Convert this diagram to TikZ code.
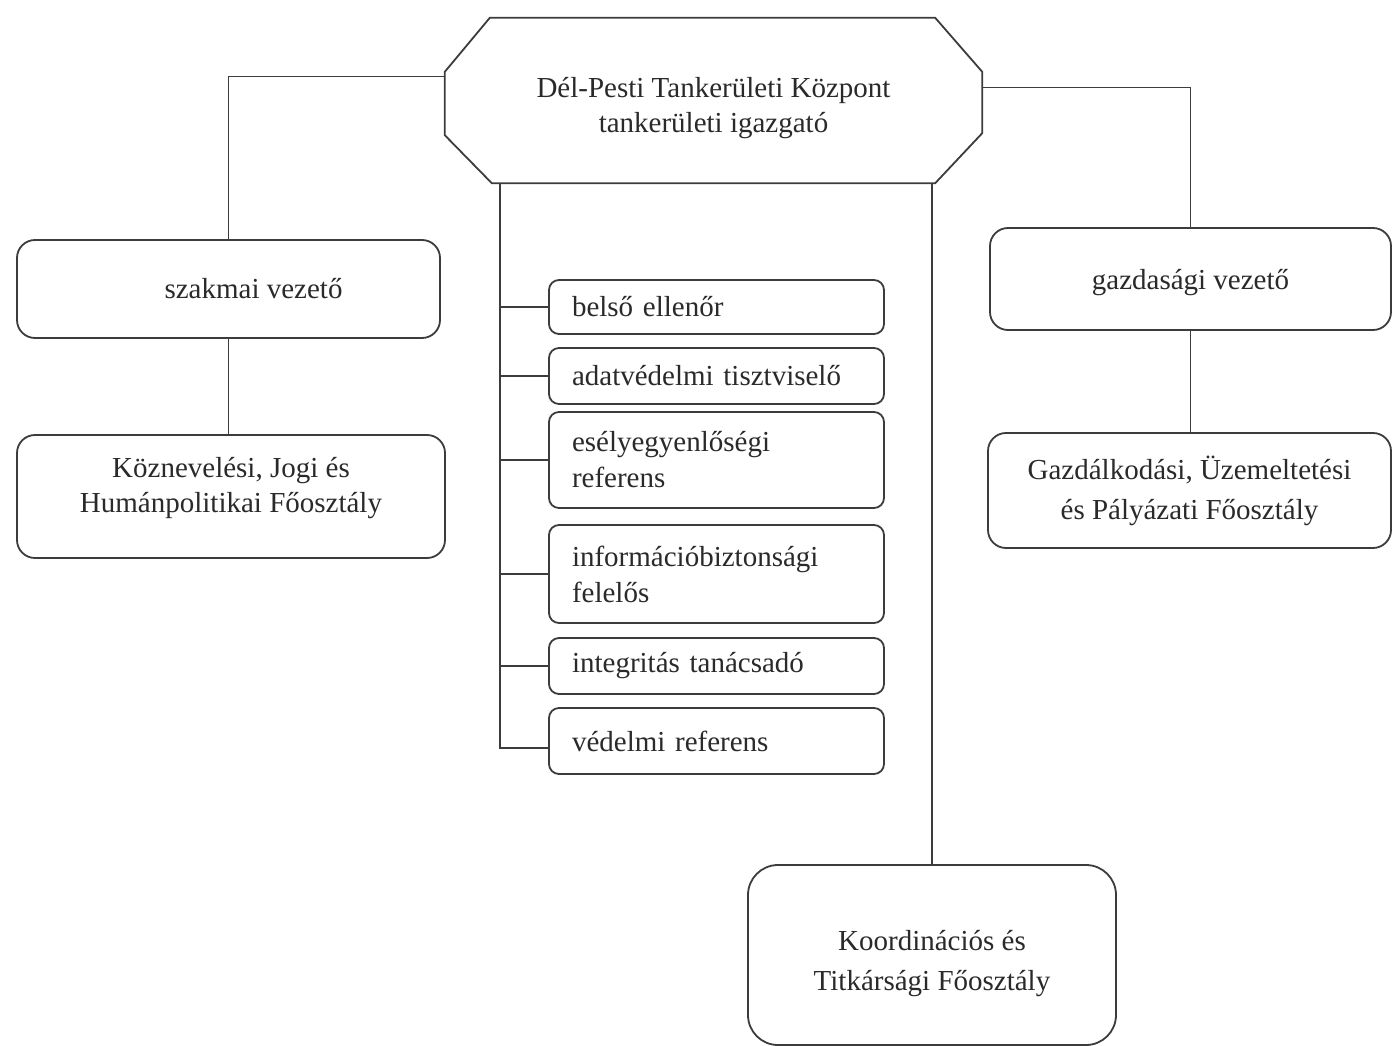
\documentclass[tikz,border=0pt]{standalone}
\usepackage{fontspec}
\setmainfont{Liberation Serif}
\definecolor{linegray}{HTML}{3C3C3C}
\definecolor{textgray}{HTML}{2A2A2A}

\tikzset{
  link/.style={draw=linegray, line width=1.8pt},
  unit/.style={draw=linegray, line width=1.8pt, rounded corners=18pt, align=center, inner sep=0pt, text=textgray, font=\fontsize{29}{35}\selectfont},
  staff/.style={draw=linegray, line width=1.8pt, rounded corners=10pt, align=left, text width=289pt, inner xsep=23pt, inner ysep=0pt, text=textgray, font=\fontsize{29}{36}\selectfont},
  txt/.style={inner sep=0pt, align=center, text=textgray, font=\fontsize{29}{35}\selectfont},
}

\begin{document}
\begin{tikzpicture}[x=1pt, y=-1pt]
\useasboundingbox[fill=white] (0,0) rectangle (1393,1046);

\node[txt, minimum width=537pt, minimum height=165pt] (top) at (713.5,108.5){Dél-Pesti Tankerületi Központ\\tankerületi igazgató};
\draw[link] ([xshift=45pt,yshift=8pt]top.north west) -- ([xshift=-47pt,yshift=8pt]top.north east) -- ([yshift=-46pt]top.north east) -- ([yshift=58pt]top.south east) -- ([xshift=-47pt,yshift=8pt]top.south east) -- ([xshift=47pt,yshift=8pt]top.south west) -- ([yshift=56pt]top.south west) -- ([yshift=-46pt]top.north west) -- cycle;

\node[unit, minimum width=423pt, minimum height=98pt] (szak) at (228.5,289){};
\node[txt] (szaktxt) at ([xshift=25pt]szak.center){szakmai vezető};
\node[unit, minimum width=428pt, minimum height=123pt] (kozn) at (231,496.5){};
\node[txt] (kozntxt) at ([yshift=8pt]kozn.center){Köznevelési, Jogi és\\Humánpolitikai Főosztály};

\node[unit, minimum width=401pt, minimum height=102pt] (gazd) at (1190.5,279){};
\node[txt] (gazdtxt) at ([yshift=-4pt]gazd.center){gazdasági vezető};
\node[unit, minimum width=403pt, minimum height=115pt, font=\fontsize{29}{40}\selectfont] (uzem) at (1189.5,490.5){Gazdálkodási, Üzemeltetési\\és Pályázati Főosztály};

\node[unit, rounded corners=30pt, minimum width=368pt, minimum height=180pt] (koord) at (932,955){};
\node[txt, font=\fontsize{29}{40}\selectfont] (koordtxt) at ([yshift=-9pt]koord.center){Koordinációs és\\Titkársági Főosztály};

\node[staff, minimum height=54pt] (belso) at (716.5,307){belső ellenőr};
\node[staff, minimum height=56pt] (adat) at (716.5,376){adatvédelmi tisztviselő};
\node[staff, minimum height=96pt] (esely) at (716.5,460){esélyegyenlőségi\\referens};
\node[staff, minimum height=98pt] (info) at (716.5,574){információbiztonsági\\felelős};
\node[staff, minimum height=56pt] (integ) at (716.5,666){integritás tanácsadó};
\node[staff, minimum height=66pt] (vedelmi) at (716.5,741){védelmi referens};

\draw[link] (szak.north) |- ([yshift=32pt]top.west);
\draw[link] (szak.south) -- (szak.south |- kozn.north);
\draw[link] ([yshift=21pt]top.east) -| (gazd.north);
\draw[link] (gazd.south) -- (gazd.south |- uzem.north);
\draw[link] ([yshift=8pt]top.south -| koord.north) -- (koord.north);

\coordinate (trunk) at ([xshift=-213.5pt,yshift=8pt]top.south);
\draw[link] (trunk) |- ([yshift=-7pt]vedelmi.west);
\foreach \n in {belso,adat,esely,info,integ}
  \draw[link] (trunk |- \n.west) -- (\n.west);

\end{tikzpicture}
\end{document}
